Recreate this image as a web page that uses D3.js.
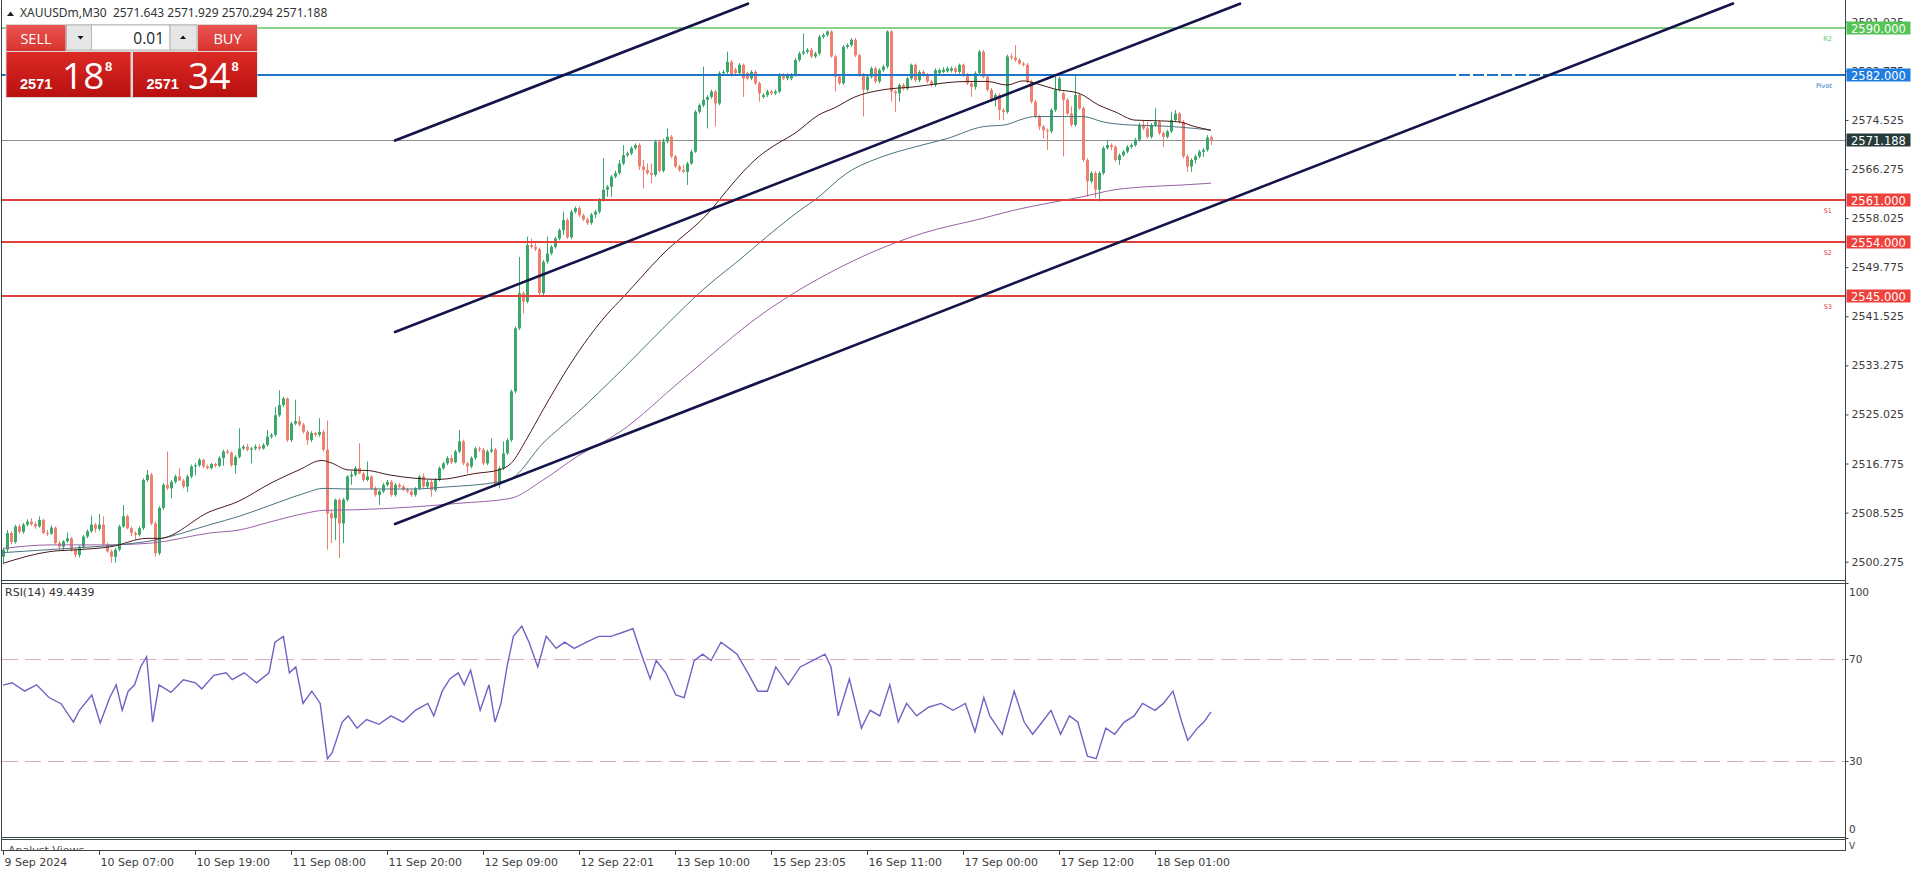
<!DOCTYPE html>
<html><head><meta charset="utf-8">
<script src="https://cdn.jsdelivr.net/npm/d3@7"></script>
<style>
html,body{margin:0;padding:0;background:#fff;overflow:hidden}
svg{display:block}
</style></head><body>
<svg id="c" width="1916" height="874"></svg>
<script>
// ---------------- DATA ----------------
const symbolText = "XAUUSDm,M30  2571.643 2571.929 2570.294 2571.188";
const open=[
2501.1,2502.3,2505.1,2503.6,2506.2,2505.3,2506.5,2507.0,2506.6,2506.2,
2507.3,2505.1,2505.0,2506.0,2503.4,2502.8,2503.7,2504.2,2502.3,2501.4,
2502.8,2504.5,2505.4,2506.5,2505.8,2506.5,2503.2,2502.0,2501.1,2502.3,
2506.2,2507.9,2505.9,2505.1,2504.8,2505.9,2514.0,2514.9,2506.7,2501.7,
2509.3,2513.2,2512.6,2513.7,2514.6,2513.9,2512.9,2514.6,2516.3,2516.5,
2517.4,2516.3,2516.0,2516.7,2516.4,2517.7,2518.8,2518.6,2516.5,2517.9,
2519.3,2519.6,2519.1,2519.3,2519.6,2519.3,2519.9,2521.3,2521.6,2524.9,
2526.6,2527.7,2520.7,2523.5,2523.9,2523.3,2522.1,2520.7,2521.9,2521.6,
2522.1,2519.1,2508.4,2507.6,2510.7,2506.7,2510.7,2514.6,2514.9,2516.0,
2515.1,2514.0,2514.6,2512.6,2511.5,2512.1,2513.2,2513.7,2511.5,2513.2,
2512.9,2512.4,2512.1,2511.5,2512.6,2514.6,2512.9,2513.7,2512.3,2514.0,
2516.0,2516.8,2517.7,2517.0,2518.8,2520.5,2516.8,2516.3,2517.7,2519.3,
2519.1,2516.8,2518.8,2519.1,2513.2,2516.0,2518.5,2520.7,2528.9,2539.5,
2545.4,2544.0,2553.5,2553.2,2552.8,2545.4,2550.7,2552.1,2553.2,2554.6,
2556.0,2557.7,2554.8,2559.1,2559.7,2558.5,2557.8,2557.2,2558.6,2559.1,
2561.1,2562.8,2563.3,2565.0,2565.6,2567.2,2568.6,2568.9,2569.8,2570.3,
2566.7,2566.1,2565.6,2565.3,2570.9,2566.0,2570.9,2571.7,2568.4,2566.7,
2566.1,2565.8,2567.2,2569.2,2575.9,2577.0,2577.9,2578.4,2579.3,2577.3,
2582.4,2582.6,2584.3,2583.0,2582.4,2583.8,2582.4,2581.5,2582.6,2580.7,
2578.4,2578.7,2579.3,2579.0,2579.3,2582.1,2581.5,2581.5,2582.1,2584.6,
2585.7,2586.0,2586.3,2585.2,2585.7,2588.5,2588.8,2589.4,2585.2,2581.8,
2580.7,2586.8,2587.1,2588.0,2585.4,2582.1,2579.6,2581.8,2583.2,2581.0,
2582.9,2583.5,2589.4,2579.3,2579.0,2580.4,2579.8,2581.5,2583.8,2581.2,
2582.6,2582.1,2581.0,2580.4,2582.4,2582.6,2582.7,2582.8,2583.2,2582.6,
2583.8,2582.1,2580.7,2580.1,2582.4,2586.0,2581.8,2579.6,2577.9,2578.7,
2576.2,2575.9,2585.2,2585.0,2584.6,2584.0,2583.8,2581.0,2577.6,2575.1,
2573.4,2572.8,2572.6,2576.2,2579.6,2579.0,2577.9,2575.6,2573.7,2578.7,
2576.5,2567.8,2564.2,2565.6,2562.8,2565.6,2569.8,2570.3,2570.0,2567.8,
2568.6,2569.2,2570.0,2570.3,2571.2,2573.7,2573.1,2571.7,2573.7,2574.2,
2572.3,2571.7,2572.6,2574.5,2575.6,2574.2,2568.4,2566.7,2567.8,2568.4,
2569.2,2569.5,2571.643];
const high=[
2502.6,2505.6,2505.4,2506.5,2506.6,2506.8,2507.4,2507.6,2507.0,2507.9,
2507.5,2505.6,2506.4,2506.2,2503.7,2503.9,2505.2,2504.4,2502.6,2503.0,
2504.8,2505.7,2508.0,2506.8,2508.3,2507.9,2503.5,2502.3,2502.6,2506.5,
2509.8,2508.2,2506.2,2505.4,2506.2,2514.3,2515.7,2515.2,2507.1,2509.6,
2513.5,2518.8,2514.0,2514.9,2516.0,2514.2,2514.9,2516.6,2516.9,2517.7,
2517.6,2516.6,2516.9,2516.9,2518.0,2519.1,2519.2,2518.8,2518.2,2522.7,
2519.9,2520.1,2519.6,2520.0,2520.0,2520.2,2522.4,2521.9,2526.3,2529.1,
2528.0,2527.9,2523.8,2527.5,2524.7,2523.6,2522.4,2522.2,2522.1,2524.4,
2522.4,2524.0,2508.8,2510.9,2510.9,2511.0,2514.8,2515.5,2516.3,2520.2,
2515.4,2517.1,2514.8,2512.9,2512.4,2513.5,2514.0,2514.0,2513.5,2513.5,
2513.2,2512.7,2512.4,2512.8,2514.8,2515.1,2514.0,2514.0,2514.3,2516.3,
2517.1,2518.0,2518.2,2519.1,2522.4,2520.8,2517.1,2518.0,2519.6,2519.6,
2519.4,2519.1,2521.0,2519.4,2516.3,2520.5,2521.0,2529.2,2539.8,2551.5,
2545.7,2554.9,2554.6,2553.9,2553.1,2551.0,2554.9,2553.5,2554.9,2556.3,
2559.1,2558.0,2559.4,2560.0,2560.0,2558.8,2558.1,2558.9,2559.4,2561.4,
2568.1,2563.6,2565.3,2566.0,2567.8,2570.3,2569.2,2570.1,2570.6,2570.6,
2567.8,2567.2,2567.2,2571.2,2571.2,2571.4,2573.1,2572.0,2568.7,2567.0,
2567.0,2567.5,2569.5,2576.2,2577.3,2583.5,2578.7,2579.6,2579.6,2582.7,
2582.9,2586.0,2584.6,2583.3,2584.1,2584.0,2582.6,2582.9,2582.9,2581.0,
2579.0,2579.6,2579.6,2579.6,2582.4,2582.4,2582.4,2582.4,2584.9,2586.0,
2589.1,2586.6,2586.6,2586.0,2588.8,2589.1,2589.6,2589.6,2585.5,2582.1,
2587.1,2587.4,2588.3,2588.3,2585.7,2582.4,2582.1,2583.5,2583.5,2583.2,
2583.8,2589.6,2589.6,2579.6,2580.7,2580.7,2581.8,2584.0,2584.0,2582.9,
2582.9,2582.4,2581.3,2583.2,2583.2,2583.4,2583.5,2583.5,2583.5,2584.0,
2584.0,2582.4,2581.0,2582.7,2586.3,2586.3,2582.1,2579.9,2579.0,2579.0,
2576.5,2585.5,2585.7,2587.1,2584.9,2584.3,2584.1,2581.3,2577.9,2575.4,
2573.7,2573.1,2576.5,2581.8,2581.8,2579.3,2578.2,2576.8,2582.1,2579.0,
2576.8,2568.1,2565.9,2565.9,2565.9,2570.1,2571.2,2570.6,2570.3,2568.9,
2569.5,2570.3,2570.6,2571.5,2574.0,2574.5,2574.2,2574.0,2576.5,2574.5,
2572.6,2572.9,2575.9,2576.2,2575.9,2574.5,2568.7,2568.1,2568.7,2569.5,
2569.8,2572.0,2571.929];
const low=[
2500.0,2501.9,2503.2,2503.3,2505.0,2505.0,2506.2,2506.3,2505.8,2506.0,
2504.9,2504.6,2504.8,2503.2,2502.3,2502.2,2503.5,2502.0,2501.0,2501.0,
2502.5,2504.2,2505.1,2505.2,2505.5,2503.0,2501.8,2500.1,2500.1,2502.0,
2506.0,2505.7,2504.6,2504.0,2504.5,2505.6,2513.7,2506.4,2501.1,2501.4,
2509.0,2512.3,2510.9,2513.4,2514.0,2512.6,2512.0,2514.3,2514.8,2516.2,
2516.0,2515.8,2515.8,2516.1,2516.2,2516.4,2518.3,2516.2,2515.1,2517.6,
2519.0,2518.8,2516.8,2519.0,2519.0,2519.1,2519.6,2521.0,2521.3,2524.6,
2526.3,2520.4,2520.4,2523.2,2523.0,2521.8,2519.9,2520.4,2521.3,2521.3,
2518.8,2502.3,2503.4,2503.9,2500.9,2503.4,2510.4,2513.2,2514.6,2515.0,
2513.7,2513.8,2512.3,2511.2,2509.8,2511.8,2512.9,2511.2,2511.2,2512.6,
2512.1,2511.8,2511.2,2511.2,2512.3,2512.6,2512.6,2511.2,2512.0,2513.8,
2515.7,2516.5,2516.7,2516.8,2518.5,2516.5,2515.1,2516.0,2517.4,2518.7,
2516.5,2516.5,2518.5,2512.9,2512.6,2515.7,2518.2,2520.4,2528.6,2539.2,
2542.0,2543.7,2552.9,2552.5,2545.1,2545.0,2550.4,2551.8,2552.9,2554.3,
2555.2,2554.5,2554.5,2558.8,2558.2,2557.5,2556.9,2556.9,2558.0,2558.8,
2560.8,2561.6,2561.6,2564.7,2565.3,2566.9,2568.3,2568.6,2569.5,2566.1,
2563.0,2565.3,2563.9,2565.0,2565.7,2565.7,2570.6,2568.1,2566.4,2565.8,
2565.6,2563.6,2567.0,2569.0,2575.6,2576.7,2573.1,2578.1,2573.4,2577.0,
2582.0,2582.3,2581.8,2582.0,2582.1,2578.4,2581.2,2581.2,2580.4,2577.6,
2578.1,2578.4,2578.7,2578.7,2579.0,2581.2,2581.2,2581.2,2581.8,2584.3,
2585.4,2585.7,2584.9,2584.9,2585.4,2588.2,2588.5,2585.0,2579.3,2580.4,
2580.4,2586.5,2586.8,2585.1,2581.8,2575.1,2579.3,2581.5,2580.7,2580.7,
2582.6,2583.2,2577.6,2575.9,2577.6,2579.5,2579.5,2581.2,2580.9,2580.9,
2581.8,2580.7,2580.1,2580.1,2582.1,2582.4,2582.5,2582.5,2582.3,2582.3,
2581.8,2580.4,2578.4,2579.6,2582.1,2581.5,2579.3,2577.6,2576.8,2574.5,
2574.5,2575.6,2584.6,2584.3,2583.8,2583.5,2580.7,2577.3,2574.8,2572.8,
2571.4,2569.5,2572.3,2575.9,2579.3,2568.4,2575.3,2573.4,2573.4,2576.2,
2567.5,2561.6,2563.9,2561.4,2560.8,2565.3,2569.5,2569.5,2567.5,2567.0,
2568.3,2568.9,2569.7,2570.0,2570.9,2572.8,2571.4,2571.4,2573.4,2572.0,
2570.0,2571.4,2572.3,2574.2,2573.9,2568.1,2565.8,2565.8,2567.2,2568.1,
2568.3,2569.2,2570.294];
const close=[
2502.3,2505.1,2503.6,2506.2,2505.3,2506.5,2507.0,2506.6,2506.2,2507.3,
2505.1,2505.0,2506.0,2503.4,2502.8,2503.7,2504.2,2502.3,2501.4,2502.8,
2504.5,2505.4,2506.5,2505.8,2506.5,2503.2,2502.0,2501.1,2502.3,2506.2,
2507.9,2505.9,2505.1,2504.8,2505.9,2514.0,2514.9,2506.7,2501.7,2509.3,
2513.2,2512.6,2513.7,2514.6,2513.9,2512.9,2514.6,2516.3,2516.5,2517.4,
2516.3,2516.0,2516.7,2516.4,2517.7,2518.8,2518.6,2516.5,2517.9,2519.3,
2519.6,2519.1,2519.3,2519.6,2519.3,2519.9,2521.3,2521.6,2524.9,2526.6,
2527.7,2520.7,2523.5,2523.9,2523.3,2522.1,2520.7,2521.9,2521.6,2522.1,
2519.1,2508.4,2507.6,2510.7,2506.7,2510.7,2514.6,2514.9,2516.0,2515.1,
2514.0,2514.6,2512.6,2511.5,2512.1,2513.2,2513.7,2511.5,2513.2,2512.9,
2512.4,2512.1,2511.5,2512.6,2514.6,2512.9,2513.7,2512.3,2514.0,2516.0,
2516.8,2517.7,2517.0,2518.8,2520.5,2516.8,2516.3,2517.7,2519.3,2519.1,
2516.8,2518.8,2519.1,2513.2,2516.0,2518.5,2520.7,2528.9,2539.5,2545.4,
2544.0,2553.5,2553.2,2552.8,2545.4,2550.7,2552.1,2553.2,2554.6,2556.0,
2557.7,2554.8,2559.1,2559.7,2558.5,2557.8,2557.2,2558.6,2559.1,2561.1,
2562.8,2563.3,2565.0,2565.6,2567.2,2568.6,2568.9,2569.8,2570.3,2566.7,
2566.1,2565.6,2565.3,2570.9,2566.0,2570.9,2571.7,2568.4,2566.7,2566.1,
2565.8,2567.2,2569.2,2575.9,2577.0,2577.9,2578.4,2579.3,2577.3,2582.4,
2582.6,2584.3,2582.1,2582.4,2583.8,2581.5,2581.5,2582.6,2580.7,2579.0,
2578.7,2579.3,2579.0,2579.3,2582.1,2581.5,2582.1,2582.1,2584.6,2585.7,
2586.0,2586.3,2585.2,2585.7,2588.5,2588.8,2589.4,2585.2,2581.8,2580.7,
2586.8,2587.1,2588.0,2585.4,2582.1,2579.6,2581.8,2583.2,2581.0,2582.9,
2583.5,2589.4,2579.3,2579.0,2580.4,2579.8,2581.5,2583.8,2581.2,2582.6,
2582.1,2581.0,2580.4,2582.9,2582.9,2583.0,2583.2,2583.2,2582.6,2583.8,
2582.1,2580.7,2580.1,2582.4,2586.0,2581.8,2579.6,2577.9,2578.7,2576.2,
2575.9,2585.2,2585.0,2584.6,2584.0,2583.8,2581.0,2577.6,2575.1,2573.4,
2572.8,2572.6,2576.2,2579.6,2581.5,2577.9,2575.6,2573.7,2578.7,2576.5,
2567.8,2564.2,2565.6,2562.8,2565.6,2569.8,2570.3,2570.0,2567.8,2568.6,
2569.2,2570.0,2570.3,2571.2,2573.7,2573.1,2571.7,2573.7,2574.2,2572.3,
2571.7,2572.6,2574.5,2575.6,2574.2,2568.4,2566.7,2567.8,2568.4,2569.2,
2569.5,2571.6,2571.188];

// moving averages, sampled [bar index] / [value]
const maFastBars=[0,12,19,27,36,39,51.75,58.8,67,74,79.7,82,86.3,91.3,96.3,103,109,118,124,127,131,135,143,152,154,165,177,181,185,189,193,198,204,208,213,220,228,236,241,246,251,255,258,263,269,274,278,283,288,294,298,302];
const maFastVals=[2500.0,2502.0,2502.3,2502.8,2504.2,2504.2,2508.7,2510.4,2513.5,2515.7,2517.3,2516.9,2515.7,2515.6,2514.9,2514.3,2514.1,2515.1,2515.7,2516.8,2521.0,2525.8,2534.7,2542.6,2544.0,2552.0,2559.4,2562.7,2565.8,2568.4,2570.3,2572.3,2575.4,2576.6,2578.4,2579.6,2580.1,2580.8,2581.0,2581.0,2580.4,2581.1,2580.7,2579.7,2579.0,2577.0,2575.9,2574.5,2574.4,2574.2,2573.4,2572.8];
const maMidBars=[0,16,27,38,51.75,59,67,75.5,80,86,92,103,110,124,127,135,143.4,154.25,165,175,185,192,200,203,211,220,228,236,245,250.5,255.5,258,263,270,275,281,290,298,302];
const maMidVals=[2501.8,2502.5,2503.0,2503.9,2506.5,2507.9,2509.8,2511.8,2512.6,2512.5,2512.5,2512.5,2512.8,2513.7,2514.2,2520.2,2525.2,2532.2,2539.5,2546.0,2551.5,2555.5,2559.7,2561.1,2565.6,2568.4,2570.0,2571.4,2573.4,2573.7,2574.8,2575.1,2575.1,2575.1,2574.2,2573.7,2573.5,2573.1,2572.8];
const maSlowBars=[0,12,25,37,51.75,59,67,75.5,80,88,103,114,126.75,135,143.4,154.25,170,190,210,230,245,253,261,269.7,278,286,295,302];
const maSlowVals=[2502.5,2503.1,2503.1,2503.4,2505.1,2505.6,2507.0,2508.4,2508.9,2509.0,2509.5,2510.1,2510.9,2514.0,2517.9,2522.1,2531.0,2542.0,2550.0,2555.5,2558.0,2559.4,2560.5,2561.6,2562.8,2563.3,2563.6,2563.9];

// RSI(14), sampled
const rsiBars=[0,2.3,5.4,8.4,11.5,14.5,17.6,19.1,22.2,24.3,26.7,28.3,29.8,31.3,32.9,34.4,35.9,37.4,39,42,45.1,48.1,49.7,52.7,55.8,57.3,60.3,63.4,66.5,68,70.1,71.6,73.2,75,77.2,79.3,81.1,82.3,84.8,86.3,88.5,90.9,94,97,100,103.1,106.2,107.7,109.8,111.7,113.8,115.3,116.9,119.3,121.5,123,124.5,126,127.6,129.7,131.5,133.7,135.8,138.3,140.4,142.8,145.9,148.9,152,155,157.5,159.6,161.8,163.3,165.7,168.2,170.3,172.8,174.9,177,179.5,181.6,183.5,186.2,188.7,191.1,193.2,196.3,199.3,202.4,205.5,207,208.8,211.6,214.6,216.8,219.2,221.7,223.8,225.9,228.4,231.4,234.5,237.5,240.6,243,245.2,246.7,249.8,252.8,255.3,257.4,259.8,262,264.4,266.6,268.7,271.1,273.3,275.7,277.9,280.3,282.8,284.9,288,290.1,292.5,294.7,296.2,298.6,300.2,302];
const rsiVals=[59.9,60.8,57.5,60,55,52.6,45.4,50,56,45,55,60,50,57.5,60,67,71,45.4,60,57,62,60.8,58.4,63.7,64.7,62,64.7,60.8,64.7,76.7,79,64.7,67,52.7,57.5,52.7,31,33.4,45.4,47.8,43,46.4,44.5,47.8,45.4,50,52.7,47.8,57.5,62.3,64.7,60,65.7,50,60,45.4,52.7,67,79,83,76.7,67,79,74.3,76.7,74.3,76.7,79,79,80.6,82,72,62.3,69.5,64.7,56,55,69.5,72,69.5,76.7,74.3,72,64.7,57.5,57.5,67,60,67,69.5,72,67,47.8,62.3,43,50,47.8,60,45.4,52.7,47.8,51.2,52.7,50,52.7,41.6,55,47.8,40.6,57.5,45.4,40.6,45.4,50,40.6,47.8,45.4,32,31,43,40.6,45.4,47.8,52.7,50,52.7,57.5,45.4,38.2,43,45.4,49.4];
const rsiLevels=[70,30];
const rsiTickVals=[100,70,30,0];
const rsiLabel="RSI(14) 49.4439";

// price axis ticks
const priceTicks=[2500.275,2508.525,2516.775,2525.025,2533.275,2541.525,2549.775,2558.025,2566.275,2574.525,2582.775,2591.025];
// time axis
const timeTickBars=[0,24,48,72,96,120,144,168,192,216,240,264,288];
const timeTickLabels=["9 Sep 2024","10 Sep 07:00","10 Sep 19:00","11 Sep 08:00","11 Sep 20:00","12 Sep 09:00","12 Sep 22:01","13 Sep 10:00","15 Sep 23:05","16 Sep 11:00","17 Sep 00:00","17 Sep 12:00","18 Sep 01:00"];

// pivot levels
const levelNames=["R2","Pivot","S1","S2","S3"];
const levelPrices=[2590,2582,2561,2554,2545];
const bidPrice=2571.188;
// dotted segment drawn on the pivot line (bar range)
const pivotDotBars=[361.5,385.5];

// channel trend lines (bar, price)
const trendStartBar=[98,98,98];
const trendStartPrice=[2571.06,2538.89,2506.6];
const trendEndBar=[186.25,309.25,432.5];
const trendEndPrice=[2594.07,2594.07,2594.1];

// one-click panel
const sellBig="18", buyBig="34", pricePrefix="2571", priceSup="8", lotText="0.01";

// ---------------- DRAW ----------------
const W=1916,H=874, AX=1845;
const svg=d3.select("#c");
const FONT='"DejaVu Sans", sans-serif';
const BULL="#3aa86a", BEAR="#ef7f6e";
const levelColor={"R2":"#62c462","Pivot":"#1f74c8","S1":"#e2403a","S2":"#e2403a","S3":"#e2403a"};
const tagColor={"R2":"#55c455","Pivot":"#1f7de0","S1":"#f0403a","S2":"#f0403a","S3":"#f0403a"};

const x=d3.scaleLinear().domain([0,460.5]).range([3,AX]);
const y=d3.scaleLinear().domain([2500.275,2591.025]).range([561.7,21.8]);
const yR=d3.scaleLinear().domain([0,100]).range([837.8,582.8]);

svg.append("rect").attr("width",W).attr("height",H).attr("fill","#fff");
const defs=svg.append("defs");
defs.append("clipPath").attr("id","clipMain").append("rect").attr("x",2).attr("y",0).attr("width",AX-2).attr("height",580);
defs.append("clipPath").attr("id","clipRsi").append("rect").attr("x",2).attr("y",584).attr("width",AX-2).attr("height",253);
defs.append("clipPath").attr("id","clipAn").append("rect").attr("x",2).attr("y",840).attr("width",AX-2).attr("height",10);

const main=svg.append("g").attr("clip-path","url(#clipMain)");

// bid line
main.append("line").attr("x1",2).attr("x2",AX).attr("y1",Math.round(y(bidPrice))+0.5).attr("y2",Math.round(y(bidPrice))+0.5)
  .attr("stroke","#8f8f8f").attr("stroke-width",1);

// candles
const idx=d3.range(close.length);
const cg=main.append("g");
cg.selectAll("line.w").data(idx).join("line").attr("class","w")
  .attr("x1",i=>Math.round(x(i))+0.5).attr("x2",i=>Math.round(x(i))+0.5)
  .attr("y1",i=>y(high[i])).attr("y2",i=>y(low[i]))
  .attr("stroke",i=>close[i]>=open[i]?BULL:BEAR).attr("stroke-width",1);
cg.selectAll("rect.b").data(idx).join("rect").attr("class","b")
  .attr("x",i=>Math.round(x(i))-1).attr("width",3)
  .attr("y",i=>y(Math.max(open[i],close[i])))
  .attr("height",i=>Math.max(1,Math.abs(y(open[i])-y(close[i]))))
  .attr("fill",i=>close[i]>=open[i]?BULL:BEAR);

// moving averages
function maLine(bars,vals,color){
  const pts=bars.map((b,k)=>[x(b),y(vals[k])]);
  main.append("path").attr("d",d3.line().curve(d3.curveMonotoneX)(pts)).attr("fill","none").attr("stroke",color).attr("stroke-width",1);
}
maLine(maSlowBars,maSlowVals,"#9a62a8");
maLine(maMidBars,maMidVals,"#4d7482");
maLine(maFastBars,maFastVals,"#4a1c1c");

// pivot levels
levelNames.forEach((n,k)=>{
  const yy=Math.round(y(levelPrices[k]));
  main.append("line").attr("x1",2).attr("x2",AX).attr("y1",yy).attr("y2",yy)
    .attr("stroke",levelColor[n]).attr("stroke-width",n==="R2"?1.5:2);
  svg.append("text").attr("x",1832).attr("y",yy+13).attr("text-anchor","end")
    .attr("font-family",FONT).attr("font-size",6.5).attr("fill",levelColor[n]).text(n);
});
// dotted stretch on the pivot line
{
  const yy=Math.round(y(levelPrices[1]));
  main.append("line").attr("x1",x(pivotDotBars[0])).attr("x2",x(pivotDotBars[1])).attr("y1",yy).attr("y2",yy)
    .attr("stroke","#fff").attr("stroke-width",2.4).attr("stroke-dasharray","0,7,3,4");
}

// trend lines
trendStartBar.forEach((b,k)=>{
  main.append("line").attr("x1",x(b)).attr("y1",y(trendStartPrice[k])).attr("x2",x(trendEndBar[k])).attr("y2",y(trendEndPrice[k]))
    .attr("stroke","#14144a").attr("stroke-width",2.6).attr("stroke-linecap","round");
});

// panel frame lines
const frame=svg.append("g").attr("stroke","#3a4448").attr("stroke-width",1);
frame.append("line").attr("x1",1.5).attr("x2",1.5).attr("y1",0).attr("y2",851);
frame.append("line").attr("x1",AX+0.5).attr("x2",AX+0.5).attr("y1",0).attr("y2",851);
[580.5,583.5,837.5,839.5,850.5].forEach(v=>frame.append("line").attr("x1",1.5).attr("x2",AX+0.5).attr("y1",v).attr("y2",v));

// price axis
const pa=svg.append("g").attr("transform",`translate(${AX+0.5},0)`)
  .call(d3.axisRight(y).tickValues(priceTicks).tickSize(3).tickPadding(3).tickFormat(d3.format(".3f")));
pa.select(".domain").remove();
pa.selectAll("line").attr("stroke","#3a4448");
pa.selectAll("text").attr("font-family",FONT).attr("font-size",11).attr("fill","#3d3d3d");

// price tags
function tag(price,color,txt){
  const yy=Math.round(y(price));
  svg.append("rect").attr("x",AX+1.5).attr("y",yy-6.5).attr("width",64).attr("height",13).attr("fill",color);
  svg.append("text").attr("x",AX+6).attr("y",yy+4.5).attr("font-family",FONT).attr("font-size",11.5).attr("fill","#fff").text(txt);
}
levelNames.forEach((n,k)=>tag(levelPrices[k],tagColor[n],d3.format(".3f")(levelPrices[k])));
tag(bidPrice,"#283a3a",d3.format(".3f")(bidPrice));

// ---------- RSI ----------
const rg=svg.append("g").attr("clip-path","url(#clipRsi)");
rsiLevels.forEach(v=>{
  rg.append("line").attr("x1",2).attr("x2",AX).attr("y1",Math.round(yR(v))+0.5).attr("y2",Math.round(yR(v))+0.5)
    .attr("stroke","#d6aebe").attr("stroke-width",1).attr("stroke-dasharray","16,7");
});
rg.append("path").attr("d",d3.line()(rsiBars.map((b,k)=>[x(b),yR(rsiVals[k])])))
  .attr("fill","none").attr("stroke","#7460c4").attr("stroke-width",1.4);
svg.append("text").attr("x",5).attr("y",596).attr("font-family",FONT).attr("font-size",11).attr("fill","#333").text(rsiLabel);
rsiTickVals.forEach(v=>{
  let yy=yR(v); if(v===100) yy+=9; if(v===0) yy-=9;
  svg.append("line").attr("x1",AX+0.5).attr("x2",AX+3.5).attr("y1",Math.round(yR(v))+0.5).attr("y2",Math.round(yR(v))+0.5).attr("stroke","#3a4448");
  svg.append("text").attr("x",AX+4).attr("y",yy+3.8).attr("font-family",FONT).attr("font-size",10.5).attr("fill","#3d3d3d").text(v);
});

// analyst views panel
svg.append("g").attr("clip-path","url(#clipAn)").append("text").attr("x",8).attr("y",854)
  .attr("font-family",FONT).attr("font-size",11).attr("fill","#555").text("Analyst Views");
svg.append("text").attr("x",AX+4).attr("y",849).attr("font-family",FONT).attr("font-size",9).attr("fill","#3d3d3d").text("V");

// time axis
timeTickBars.forEach((b,k)=>{
  const xx=Math.round(x(b))+0.5;
  svg.append("line").attr("x1",xx).attr("x2",xx).attr("y1",851).attr("y2",855).attr("stroke","#3a4448");
  svg.append("text").attr("x",xx+1).attr("y",866).attr("font-family",FONT).attr("font-size",11).attr("fill","#3d3d3d").text(timeTickLabels[k]);
});

// ---------- header & one-click panel ----------
svg.append("path").attr("d","M7,16 L14,16 L10.5,11.5 Z").attr("fill","#222");
svg.append("text").attr("x",20).attr("y",16.5).attr("font-family",'"Noto Sans", sans-serif').attr("font-size",12).attr("fill","#333")
  .attr("xml:space","preserve").style("white-space","pre").text(symbolText);

const gr=defs.append("linearGradient").attr("id","gBtn").attr("x1",0).attr("y1",0).attr("x2",0).attr("y2",1);
gr.append("stop").attr("offset","0").attr("stop-color","#ea5450");
gr.append("stop").attr("offset","1").attr("stop-color","#d8342f");
const gp=defs.append("linearGradient").attr("id","gPx").attr("x1",0).attr("y1",0).attr("x2",0).attr("y2",1);
gp.append("stop").attr("offset","0").attr("stop-color","#dc2a26");
gp.append("stop").attr("offset","1").attr("stop-color","#b8100f");

const tp=svg.append("g");
tp.append("rect").attr("x",5.5).attr("y",24).attr("width",252).attr("height",74).attr("fill","#d9d9d9");
tp.append("rect").attr("x",6.5).attr("y",25).attr("width",59).attr("height",26).attr("fill","url(#gBtn)");
tp.append("rect").attr("x",198).attr("y",25).attr("width",59).attr("height",26).attr("fill","url(#gBtn)");
tp.append("rect").attr("x",66.5).attr("y",25).attr("width",25).attr("height",25).attr("fill","#e6e6e6").attr("stroke","#b5b5b5");
tp.append("rect").attr("x",91.5).attr("y",25).attr("width",78.5).attr("height",25).attr("fill","#fff").attr("stroke","#b5b5b5");
tp.append("rect").attr("x",170).attr("y",25).attr("width",27).attr("height",25).attr("fill","#e6e6e6").attr("stroke","#b5b5b5");
tp.append("path").attr("d","M77.5,36 L83.5,36 L80.5,39.5 Z").attr("fill","#111");
tp.append("path").attr("d","M180,39 L186,39 L183,35.5 Z").attr("fill","#111");
tp.append("text").attr("x",164).attr("y",44).attr("text-anchor","end").attr("font-family",'"Open Sans", sans-serif').attr("font-size",15.5).attr("fill","#222").text(lotText);
tp.append("text").attr("x",36).attr("y",44).attr("text-anchor","middle").attr("font-family",'"Open Sans", sans-serif').attr("font-size",14.5).attr("fill","#fff").text("SELL");
tp.append("text").attr("x",227.5).attr("y",44).attr("text-anchor","middle").attr("font-family",'"Open Sans", sans-serif').attr("font-size",14.5).attr("fill","#fff").text("BUY");
tp.append("rect").attr("x",6.5).attr("y",52).attr("width",124).attr("height",45).attr("fill","url(#gPx)");
tp.append("rect").attr("x",133).attr("y",52).attr("width",124).attr("height",45).attr("fill","url(#gPx)");
[[20,62,105,sellBig],[146.5,188,231.5,buyBig]].forEach(([a,b,c,big])=>{
  tp.append("text").attr("x",a).attr("y",88.5).attr("font-family",'"Liberation Sans", sans-serif').attr("font-weight","bold").attr("font-size",14.5).attr("fill","#fff").text(pricePrefix);
  tp.append("text").attr("x",b).attr("y",88.5).attr("font-family",'"Open Sans", sans-serif').attr("font-size",37).attr("fill","#fff").text(big);
  tp.append("text").attr("x",c).attr("y",71).attr("font-family",'"Liberation Sans", sans-serif').attr("font-weight","bold").attr("font-size",13).attr("fill","#fff").text(priceSup);
});
</script>
</body></html>
